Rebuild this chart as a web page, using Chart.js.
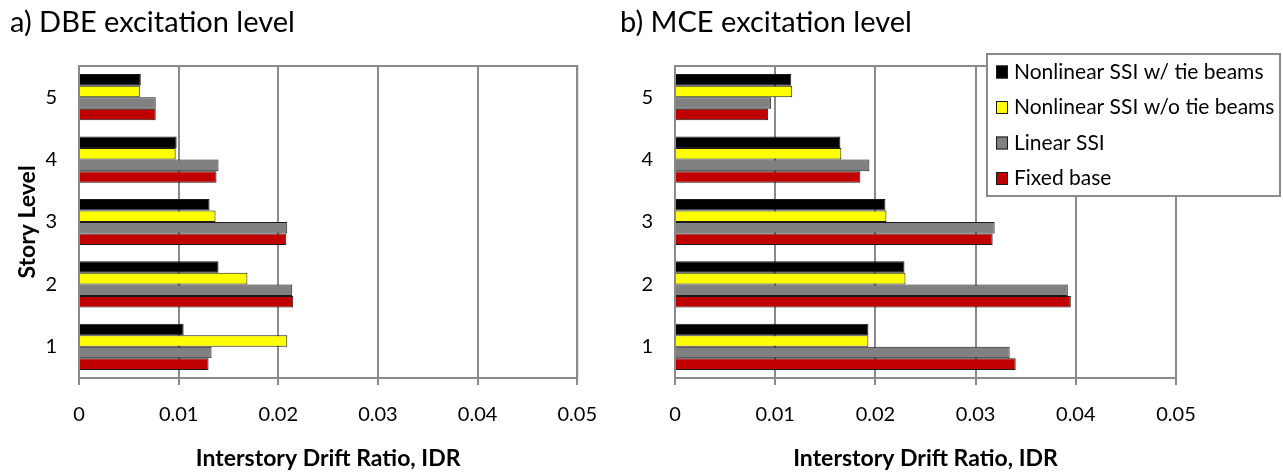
<!DOCTYPE html>
<html>
<head>
<meta charset="utf-8">
<script src="https://cdn.jsdelivr.net/npm/chart.js@4.4.0/dist/chart.umd.min.js"></script>
<style>
  html, body { margin: 0; padding: 0; background: #fff; }
  #wrapA { position: absolute; left: 0; top: 0; width: 615px; height: 472px; }
  #wrapB { position: absolute; left: 615px; top: 0; width: 668px; height: 472px; }
</style>
</head>
<body>
<div id="wrapA"><canvas id="chartA"></canvas></div>
<div id="wrapB"><canvas id="chartB"></canvas></div>
<script>
// story levels, bottom to top
var stories = ['1', '2', '3', '4', '5'];
var seriesNames = ['Nonlinear SSI w/ tie beams', 'Nonlinear SSI w/o tie beams', 'Linear SSI', 'Fixed base'];
var seriesColors = ['#000000', '#ffff00', '#808080', '#c00000'];
var xTickLabels = ['0', '0.01', '0.02', '0.03', '0.04', '0.05'];

// a) DBE, stories 1..5
var dbeTie    = [0.0105, 0.0140, 0.0131, 0.0098, 0.0062];
var dbeNoTie  = [0.0209, 0.0169, 0.0137, 0.0097, 0.0061];
var dbeLinear = [0.0133, 0.0214, 0.0209, 0.0140, 0.0077];
var dbeFixed  = [0.0130, 0.0215, 0.0208, 0.0138, 0.0077];

// b) MCE, stories 1..5
var mceTie    = [0.0193, 0.0229, 0.0210, 0.0165, 0.0116];
var mceNoTie  = [0.0193, 0.0230, 0.0211, 0.0166, 0.0117];
var mceLinear = [0.0334, 0.0392, 0.0319, 0.0194, 0.0096];
var mceFixed  = [0.0340, 0.0395, 0.0317, 0.0185, 0.0093];

var FONT = 'Lato, "Open Sans", sans-serif';
var GRID = '#8a8a8a';

function makeDatasets(values) {
    return values.map(function (v, i) {
        return {
            label: seriesNames[i],
            data: v,
            backgroundColor: seriesColors[i],
            borderColor: '#1a1a1a',
            borderWidth: 1,
            barPercentage: 1.0,
            categoryPercentage: 0.74
        };
    });
}

// grey box round the plot area (top & right edges)
var framePlugin = {
    id: 'frame',
    beforeDatasetsDraw: function (chart) {
        var a = chart.chartArea, ctx = chart.ctx;
        ctx.save();
        ctx.strokeStyle = GRID;
        ctx.lineWidth = 2;
        ctx.strokeRect(a.left, a.top, a.right - a.left, a.bottom - a.top);
        ctx.restore();
    }
};

// legend box drawn over the plot, as in the reference
var boxLegend = {
    id: 'boxLegend',
    afterDraw: function (chart) {
        var ctx = chart.ctx;
        var x0 = 372, y0 = 54, w = 293, h = 142;
        ctx.save();
        ctx.fillStyle = '#fff';
        ctx.fillRect(x0, y0, w, h);
        ctx.strokeStyle = GRID;
        ctx.lineWidth = 2;
        ctx.strokeRect(x0, y0, w, h);
        ctx.font = '21px ' + FONT;
        ctx.textBaseline = 'middle';
        chart.data.datasets.forEach(function (ds, i) {
            var cy = y0 + 18 + i * 35.5;
            ctx.fillStyle = ds.backgroundColor;
            ctx.fillRect(x0 + 9, cy - 6.5, 12, 13);
            ctx.strokeStyle = '#1a1a1a';
            ctx.lineWidth = 1;
            ctx.strokeRect(x0 + 9.5, cy - 6, 11, 12);
            ctx.fillStyle = '#000';
            ctx.fillText(ds.label, x0 + 27, cy);
        });
        ctx.restore();
    }
};

function makeOptions(titleText, padLeft, padRight, yWidth, showYTitle) {
    return {
        indexAxis: 'y',
        responsive: true,
        maintainAspectRatio: false,
        animation: false,
        layout: { padding: { left: padLeft, right: padRight, top: 0, bottom: 0 } },
        plugins: {
            legend: { display: false },
            tooltip: { enabled: false },
            title: {
                display: true,
                text: titleText,
                align: 'start',
                color: '#000',
                font: { family: FONT, size: 29, weight: 'normal' },
                padding: { top: 5.6, bottom: 25.6 }
            }
        },
        scales: {
            x: {
                min: 0,
                max: 0.05,
                afterFit: function (s) { s.height = 94; },
                afterBuildTicks: function (s) {
                    s.ticks = xTickLabels.map(function (t) { return { value: parseFloat(t) }; });
                },
                ticks: {
                    color: '#000',
                    padding: 18,
                    maxRotation: 0,
                    font: { family: FONT, size: 20 },
                    callback: function (v, i) { return xTickLabels[i]; }
                },
                grid: { color: GRID, lineWidth: 2, tickLength: 7, drawTicks: true },
                border: { color: GRID, width: 2 },
                title: {
                    display: true,
                    text: 'Interstory Drift Ratio, IDR',
                    color: '#000',
                    font: { family: FONT, size: 23, weight: 'bold' },
                    padding: { top: 0, bottom: 0 }
                }
            },
            y: {
                reverse: true,
                afterFit: function (s) { s.width = yWidth; },
                ticks: {
                    color: '#000',
                    padding: 22,
                    font: { family: FONT, size: 20 }
                },
                grid: { display: false, drawTicks: false },
                border: { color: GRID, width: 2 },
                title: {
                    display: showYTitle,
                    text: 'Story Level',
                    color: '#000',
                    font: { family: FONT, size: 23, weight: 'bold' },
                    padding: { top: 4, bottom: 0 }
                }
            }
        }
    };
}

new Chart(document.getElementById('chartA').getContext('2d'), {
    type: 'bar',
    data: { labels: stories, datasets: makeDatasets([dbeTie, dbeNoTie, dbeLinear, dbeFixed]) },
    options: makeOptions('a) DBE excitation level', 10, 34, 69, true),
    plugins: [framePlugin]
});

new Chart(document.getElementById('chartB').getContext('2d'), {
    type: 'bar',
    data: { labels: stories, datasets: makeDatasets([mceTie, mceNoTie, mceLinear, mceFixed]) },
    options: makeOptions('b) MCE excitation level', 5, 107, 55, false),
    plugins: [framePlugin, boxLegend]
});
</script>
</body>
</html>
